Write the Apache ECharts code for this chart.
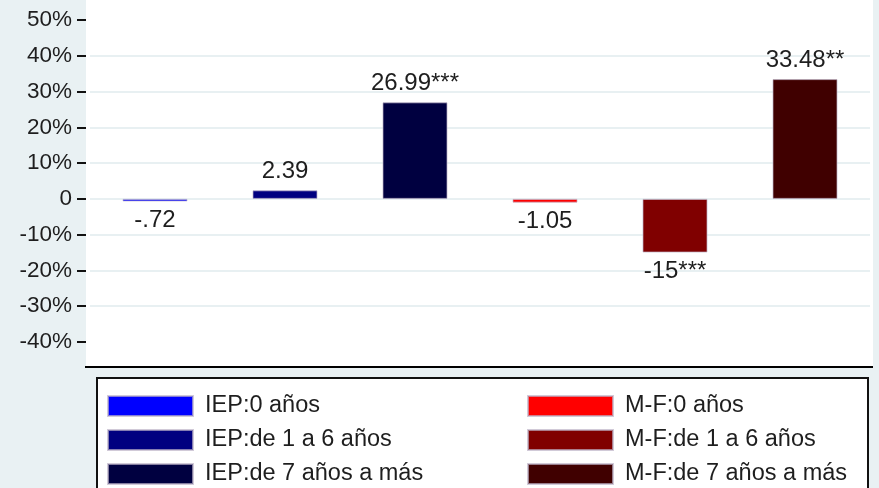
<!DOCTYPE html>
<html><head><meta charset="utf-8">
<script src="https://cdn.jsdelivr.net/npm/echarts@6/dist/echarts.min.js"></script>
<style>html,body{margin:0;padding:0;background:#e9f1f3;}#c{width:879px;height:488px;}</style>
</head><body><div id="c"></div>
<script>
const seriesNames = ['IEP:0 años','IEP:de 1 a 6 años','IEP:de 7 años a más','M-F:0 años','M-F:de 1 a 6 años','M-F:de 7 años a más'];
const values = [-0.72, 2.39, 26.99, -1.05, -15, 33.48];
const valueLabels = ['-.72', '2.39', '26.99***', '-1.05', '-15***', '33.48**'];
const colors = ['#0000ff','#000080','#000040','#ff0000','#800000','#400000'];
const yTicks = [-40,-30,-20,-10,0,10,20,30,40,50];
const gridLines = [-30,-20,-10,0,10,20,30,40];

const chart = echarts.init(document.getElementById('c'));
const FONT = '"Liberation Sans", Arial, sans-serif';
const series = seriesNames.map((name, i) => ({
  name, type: 'bar', stack: 'all', barWidth: 65,
  itemStyle: { color: colors[i], borderColor: 'rgba(190,180,200,0.7)', borderWidth: 1 },
  data: values.map((v, j) => j === i ? {
    value: v,
    label: {
      show: true, position: v >= 0 ? 'top' : 'bottom', distance: 7,
      formatter: valueLabels[i], fontFamily: FONT, fontSize: 24, color: '#1e1e1e'
    }
  } : null)
}));
const legends = seriesNames.map((name, i) => ({
  data: [name], orient: 'vertical', left: i < 3 ? 107 : 527, top: 394 + (i % 3) * 34,
  padding: 0, itemWidth: 85, itemHeight: 20, icon: 'rect', selectedMode: false,
  textStyle: { fontFamily: FONT, fontSize: 23.5, color: '#1e1e1e', lineHeight: 20, padding: [0, 0, 0, 7] }
}));
chart.setOption({
  backgroundColor: '#e9f1f3',
  animation: false,
  graphic: [
    { type: 'rect', z: -10, shape: { x: 86, y: 0, width: 787, height: 367 }, style: { fill: '#ffffff' } },
    { type: 'line', z: 10, shape: { x1: 85, y1: 367, x2: 873, y2: 367 }, style: { stroke: '#000', lineWidth: 2 } },
    { type: 'rect', z: -10, shape: { x: 97, y: 378, width: 771, height: 120 }, style: { fill: '#ffffff', stroke: '#111', lineWidth: 2 } }
  ],
  grid: { left: 90, width: 780, top: 0, height: 367, containLabel: false },
  xAxis: {
    type: 'category', data: seriesNames,
    axisLine: { show: false }, axisTick: { show: false }, axisLabel: { show: false }, splitLine: { show: false }
  },
  yAxis: [{
    type: 'value', min: -47, max: 55.6, offset: 4,
    axisLine: { show: false },
    axisTick: { show: true, length: 9, lineStyle: { color: '#111', width: 2 }, customValues: yTicks },
    axisLabel: { customValues: yTicks, margin: 14, fontFamily: FONT, fontSize: 22.5, color: '#1e1e1e',
      formatter: v => v === 0 ? '0' : v + '%' },
    splitLine: { show: false }
  }, {
    type: 'value', min: -47, max: 55.6, position: 'left',
    axisLine: { show: false },
    axisTick: { show: false, customValues: gridLines },
    axisLabel: { show: false, customValues: gridLines },
    splitLine: { show: true, lineStyle: { color: '#e8f0f2', width: 2 } }
  }],
  legend: legends,
  series
});
</script></body></html>
